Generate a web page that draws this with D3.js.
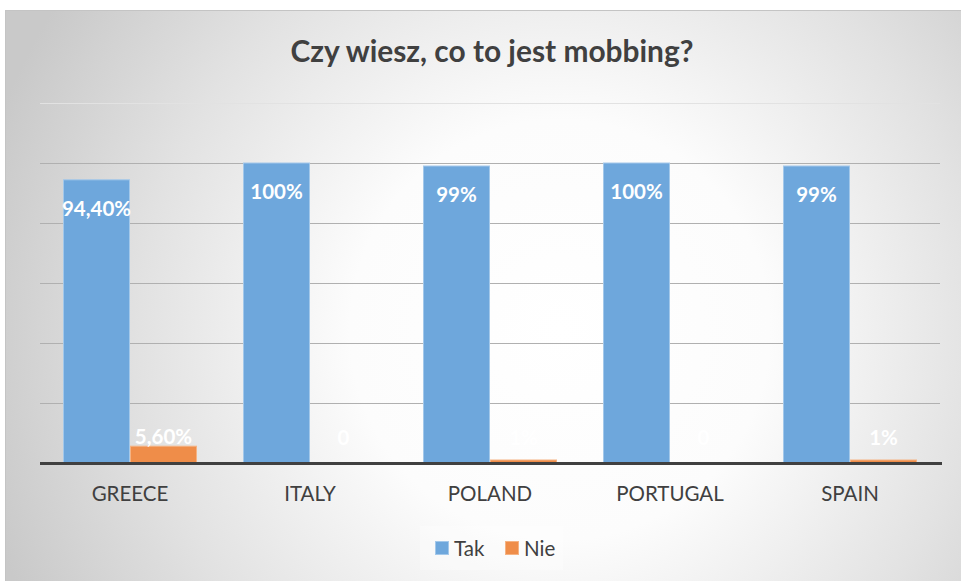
<!DOCTYPE html>
<html>
<head>
<meta charset="utf-8">
<script src="https://cdn.jsdelivr.net/npm/d3@7"></script>
<style>
  body { margin: 0; background: #fff; }
  svg { display: block; }
</style>
</head>
<body>
<svg width="961" height="581"></svg>
<script>
const categories = ["GREECE", "ITALY", "POLAND", "PORTUGAL", "SPAIN"]
const seriesNames = ["Tak", "Nie"]
const takValues = [0.944, 1.00, 0.99, 1.00, 0.99]
const nieValues = [0.056, 0.00, 0.01, 0.00, 0.01]
const takLabels = ["94,40%", "100%", "99%", "100%", "99%"]
const nieLabels = ["5,60%", "0", "1%", "0", "1%"]
const yTicks = [0, 0.2, 0.4, 0.6, 0.8, 1.0, 1.2]

const colors = { Tak: "#6ea7dc", Nie: "#ef8d49" }
const strokes = { Tak: "#a3c8ea", Nie: "#f5b383" }

const svg = d3.select("svg")
const font = "Lato, 'Open Sans', sans-serif"

// background + frame
const defs = svg.append("defs")
const grad = defs.append("radialGradient")
  .attr("id", "bg")
  .attr("gradientUnits", "userSpaceOnUse")
  .attr("cx", 560).attr("cy", 330).attr("r", 600)
grad.append("stop").attr("offset", "0%").attr("stop-color", "#ffffff")
grad.append("stop").attr("offset", "35%").attr("stop-color", "#fcfcfc")
grad.append("stop").attr("offset", "70%").attr("stop-color", "#e2e2e2")
grad.append("stop").attr("offset", "100%").attr("stop-color", "#c9c9c9")

svg.append("rect")
  .attr("x", 5.5).attr("y", 10.5)
  .attr("width", 970).attr("height", 580)
  .attr("fill", "url(#bg)")
  .attr("stroke", "#c4c4c4")

svg.append("text")
  .attr("x", 492).attr("y", 62)
  .attr("text-anchor", "middle")
  .attr("font-family", font)
  .attr("font-weight", "bold")
  .attr("font-size", 30)
  .attr("textLength", 403)
  .attr("lengthAdjust", "spacingAndGlyphs")
  .attr("fill", "#404040")
  .text("Czy wiesz, co to jest mobbing?")

const x0 = d3.scaleBand()
  .domain(categories)
  .range([40, 940])
  .paddingInner(46 / 180)
  .paddingOuter(23 / 180)

const x1 = d3.scaleBand()
  .domain(seriesNames)
  .range([0, x0.bandwidth()])

const y = d3.scaleLinear()
  .domain([0, 1.2])
  .range([463, 103])

// gridlines
svg.append("g")
  .selectAll("line")
  .data(yTicks.slice(1))
  .enter()
  .append("line")
  .attr("x1", 40).attr("x2", 940)
  .attr("y1", d => y(d) + 0.5).attr("y2", d => y(d) + 0.5)
  .attr("stroke", d => d > 1.1 ? "#e2e2e2" : "#b0b0b0")
  .attr("stroke-width", 1)

const data = categories.map((c, i) => ({
  cat: c,
  vals: [
    { key: "Tak", value: takValues[i], label: takLabels[i] },
    { key: "Nie", value: nieValues[i], label: nieLabels[i] }
  ]
}))

const groups = svg.append("g")
  .selectAll("g")
  .data(data)
  .enter()
  .append("g")
  .attr("transform", d => `translate(${x0(d.cat)}, 0)`)

groups.selectAll("rect")
  .data(d => d.vals)
  .enter()
  .append("rect")
  .attr("x", d => x1(d.key) + 0.5)
  .attr("y", d => y(d.value))
  .attr("width", x1.bandwidth() - 1)
  .attr("height", d => y(0) - y(d.value))
  .attr("fill", d => colors[d.key])
  .attr("stroke", d => strokes[d.key])
  .attr("stroke-width", d => d.value > 0 ? 1 : 0)

groups.selectAll("text")
  .data(d => d.vals)
  .enter()
  .append("text")
  .attr("x", d => x1(d.key) + x1.bandwidth() / 2)
  .attr("y", d => d.key === "Tak" ? y(d.value) + 36 : Math.min(y(d.value) - 2, y(0) - 18))
  .attr("text-anchor", "middle")
  .attr("font-family", font)
  .attr("font-weight", "bold")
  .attr("font-size", 20.5)
  .attr("fill", "#ffffff")
  .text(d => d.label)

// baseline
svg.append("line")
  .attr("x1", 40).attr("x2", 942)
  .attr("y1", y(0) + 0.5).attr("y2", y(0) + 0.5)
  .attr("stroke", "#404040")
  .attr("stroke-width", 3)

// x axis labels
svg.append("g")
  .attr("transform", `translate(0, ${y(0)})`)
  .call(d3.axisBottom(x0).tickSize(0).tickPadding(23))
  .call(g => g.select(".domain").remove())
  .call(g => g.selectAll("text")
    .attr("font-family", font)
    .attr("font-size", 20.5)
    .attr("fill", "#404040"))

// legend
svg.append("rect")
  .attr("x", 420).attr("y", 526).attr("width", 143).attr("height", 44)
  .attr("fill", "#ffffff").attr("opacity", 0.3)

const legend = svg.append("g")
const legX = [435, 505]
seriesNames.forEach((s, i) => {
  legend.append("rect")
    .attr("x", legX[i] + 0.5).attr("y", 541.5)
    .attr("width", 13).attr("height", 13)
    .attr("fill", colors[s])
    .attr("stroke", strokes[s])
  legend.append("text")
    .attr("x", legX[i] + 19).attr("y", 556)
    .attr("font-family", font)
    .attr("font-size", 20.5)
    .attr("fill", "#404040")
    .text(s)
})
</script>
</body>
</html>
